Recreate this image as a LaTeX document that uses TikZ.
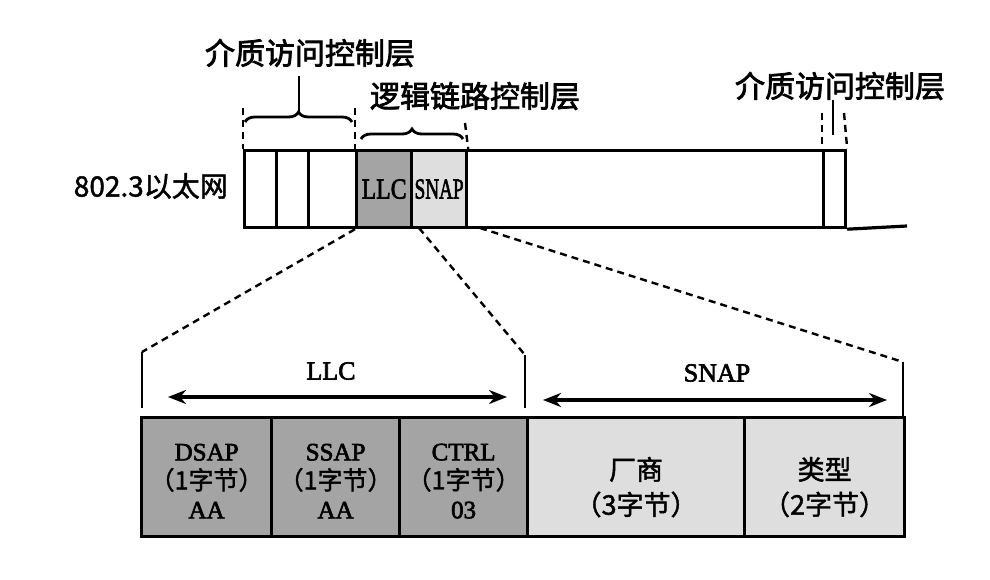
\documentclass[tikz,border=0pt]{standalone}
\usepackage{fontspec}
\setmainfont{Liberation Serif}
\newfontfamily\cjk{Noto Sans CJK SC}[FakeBold=2.5]
\newfontfamily\cjkl{Noto Sans CJK SC}[FakeBold=1.6]
\newfontfamily\serifm{Liberation Serif}[FakeBold=2.5]
\usetikzlibrary{decorations.pathreplacing,arrows.meta}
\definecolor{darkfill}{HTML}{A4A4A4}
\definecolor{lightfill}{HTML}{DEDEDE}
\begin{document}
\begin{tikzpicture}[x=1pt,y=-1pt,
  seg/.style={draw, line width=3.2pt, minimum height=77pt, inner sep=0pt, anchor=north west},
  cell/.style={draw, line width=3.2pt, minimum height=119pt, inner sep=0pt, anchor=north west},
  dashline/.style={line width=2.4pt, dash pattern=on 7pt off 5pt},
  tick/.style={line width=2pt},
  bracestyle/.style={line width=2.8pt, decorate, decoration={brace, amplitude=10pt}},
  dblarrow/.style={line width=3.4pt, {Stealth[length=18pt,width=14pt]}-{Stealth[length=18pt,width=14pt]}},
  biglabel/.style={font=\cjk\fontsize{30}{34}\selectfont, inner sep=0pt},
  boxtext/.style={font=\serifm\fontsize{29}{32}\selectfont, inner sep=0pt},
  celltext/.style={font=\serifm\fontsize{25}{29}\selectfont, align=center, inner sep=0pt},
  cjkcell/.style={font=\cjkl\fontsize{27}{35}\selectfont, align=center, inner sep=0pt}
]
\useasboundingbox (0,0) rectangle (990,580);

% ---- top frame ----
\node[seg, minimum width=32pt] (m1) at (243,149) {};
\node[seg, minimum width=32pt] (m2) at (275,149) {};
\node[seg, minimum width=48pt] (m3) at (307,149) {};
\node[seg, minimum width=55pt, fill=darkfill] (llc) at (355,149) {};
\node[seg, minimum width=55pt, fill=lightfill] (snap) at (410,149) {};
\node[seg, minimum width=357pt] (data) at (465,149) {};
\node[seg, minimum width=22pt] (fcs) at (822,149) {};
\coordinate (bend) at (907,226);
\draw[line width=3.2pt] (fcs.south east) -- (bend);
\node[boxtext] (llct) at (llc.center) {\scalebox{0.82}[1]{LLC}};
\node[boxtext] (snapt) at (snap.center) {\scalebox{0.66}[1]{SNAP}};

\node[font=\cjkl\fontsize{28}{32}\selectfont, anchor=east, inner sep=0pt] (eth) at (228,186) {802.3以太网};

% ---- left MAC brace ----
\coordinate (lb1) at (245,122);
\coordinate (lb2) at (352,122);
\coordinate (lbt) at (299,112);
\coordinate (lbs) at (299,76);
\draw[bracestyle] (lb1) -- (lb2);
\draw[line width=2.8pt] (lbt) -- (lbs);
\coordinate (ld1) at (243,108);
\coordinate (ld2) at (355,108);
\draw[dashline] (ld1) -- (m1.north west);
\draw[dashline] (ld2) -- (llc.north west);
\node[biglabel] (maclabel1) at (310,53) {介质访问控制层};

% ---- LLC brace ----
\coordinate (cb1) at (361,139);
\coordinate (cb2) at (463,139);
\draw[bracestyle] (cb1) -- (cb2);
\coordinate (cd2) at (465,123);
\draw[dashline] (cd2) -- (snap.north east);
\node[biglabel] (llclabel) at (475,96) {逻辑链路控制层};

% ---- right MAC ----
\coordinate (rd1) at (822,113);
\coordinate (rd2) at (844,113);
\draw[dashline] (rd1) -- (fcs.north west);
\draw[dashline] (rd2) -- (fcs.north east);
\coordinate (rs1) at (833,100);
\coordinate (rs2) at (833,135);
\draw[line width=2pt] (rs1) -- (rs2);
\node[biglabel] (maclabel2) at (840,86) {介质访问控制层};

% ---- bottom frame ----
\node[cell, minimum width=130pt, fill=darkfill] (dsap) at (140,416) {};
\node[cell, minimum width=128pt, fill=darkfill] (ssap) at (270,416) {};
\node[cell, minimum width=128pt, fill=darkfill] (ctrl) at (398,416) {};
\node[cell, minimum width=217pt, fill=lightfill] (oui) at (526,416) {};
\node[cell, minimum width=160pt, fill=lightfill] (type) at (743,416) {};

\node[celltext] (dsapt) at ([yshift=-4pt]dsap.center) {DSAP\\{\cjkl （1字节）}\\AA};
\node[celltext] (ssapt) at ([yshift=-4pt]ssap.center) {SSAP\\{\cjkl （1字节）}\\AA};
\node[celltext] (ctrlt) at ([yshift=-4pt]ctrl.center) {CTRL\\{\cjkl （1字节）}\\03};
\node[cjkcell] (ouit) at ([yshift=-10pt]oui.center) {厂商\\（3字节）};
\node[cjkcell] (typet) at ([yshift=-10pt]type.center) {类型\\（2字节）};

% ---- ticks ----
\coordinate (t1a) at (142,352);
\coordinate (t1b) at (142,408);
\coordinate (t2a) at (525,355);
\coordinate (t2b) at (525,408);
\coordinate (t3a) at (903,362);
\coordinate (t3b) at (903,416);
\draw[tick] (t1a) -- (t1b);
\draw[tick] (t2a) -- (t2b);
\draw[tick] (t3a) -- (t3b);

% ---- dashed expansion lines ----
\coordinate (s2) at (419,228);
\coordinate (s3) at (480,228);
\draw[dashline] (llc.south west) -- (t1a);
\draw[dashline] (s2) -- (t2a);
\draw[dashline] (s3) -- (t3a);

% ---- arrows ----
\coordinate (a1) at (168,397);
\coordinate (a2) at (507,397);
\coordinate (a3) at (543,400);
\coordinate (a4) at (887,400);
\draw[dblarrow] (a1) -- (a2);
\draw[dblarrow] (a3) -- (a4);
\node[font=\serifm\fontsize{26}{30}\selectfont, inner sep=0pt] (llcspan) at (331,371) {LLC};
\node[font=\serifm\fontsize{26}{30}\selectfont, inner sep=0pt] (snapspan) at (717,373) {SNAP};
\end{tikzpicture}
\end{document}
